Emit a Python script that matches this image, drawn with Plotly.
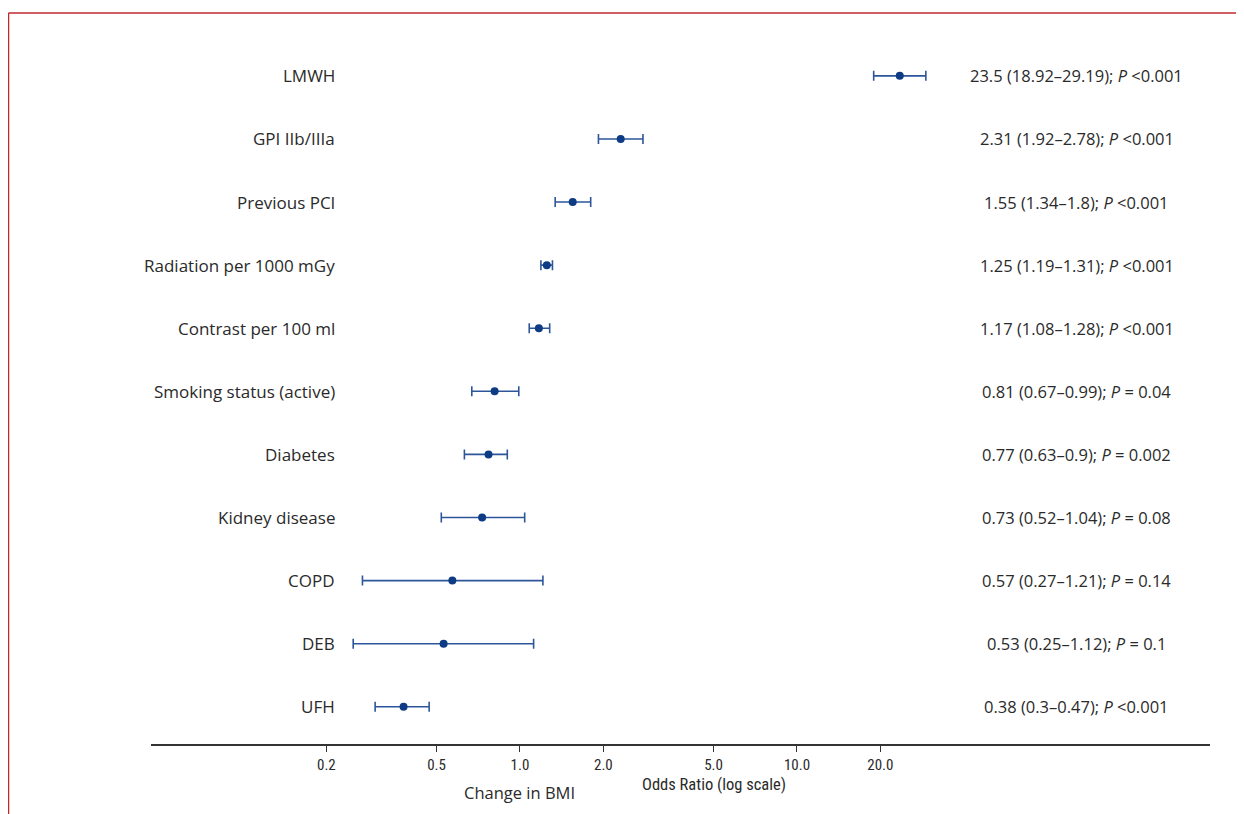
import plotly.graph_objects as go

labels = ["LMWH", "GPI IIb/IIIa", "Previous PCI", "Radiation per 1000 mGy",
          "Contrast per 100 ml", "Smoking status (active)", "Diabetes",
          "Kidney disease", "COPD", "DEB", "UFH"]
odds = [23.5, 2.31, 1.55, 1.25, 1.17, 0.81, 0.77, 0.73, 0.57, 0.53, 0.38]
ci_low = [18.92, 1.92, 1.34, 1.19, 1.08, 0.67, 0.63, 0.52, 0.27, 0.25, 0.3]
ci_high = [29.19, 2.78, 1.8, 1.31, 1.28, 0.99, 0.9, 1.04, 1.21, 1.12, 0.47]
p_text = ["<0.001", "<0.001", "<0.001", "<0.001", "<0.001", "= 0.04",
          "= 0.002", "= 0.08", "= 0.14", "= 0.1", "<0.001"]
tick_vals = [0.2, 0.5, 1.0, 2.0, 5.0, 10.0, 20.0]
tick_text = ["0.2", "0.5", "1.0", "2.0", "5.0", "10.0", "20.0"]

n = len(labels)
ypos = list(range(n - 1, -1, -1))

FONT = "'Open Sans', 'Noto Sans', sans-serif"
NARROW = "'Liberation Sans Narrow', 'Roboto Condensed', 'Arial Narrow', Roboto, sans-serif"
TXT = "#2a2a2a"

fig = go.Figure()
fig.add_trace(go.Scatter(
    x=odds, y=ypos, mode="markers",
    marker=dict(color="#0d3b84", size=8),
    error_x=dict(type="data", symmetric=False,
                 array=[h - o for h, o in zip(ci_high, odds)],
                 arrayminus=[o - l for o, l in zip(odds, ci_low)],
                 color="#2d569a", thickness=1.6, width=5),
    showlegend=False, hoverinfo="skip"))

# dashed reference line at OR = 1
fig.add_shape(type="line", xref="x", yref="y domain", x0=0, x1=0, y0=0, y1=1,
              line=dict(color="#1a1a1a", width=1.5, dash="6px,4px"))

# red frame
fig.add_shape(type="line", xref="paper", yref="paper",
              x0=-0.1346, x1=1.06, y0=1.0354, y1=1.0354,
              line=dict(color="#c0282e", width=1.6))
fig.add_shape(type="line", xref="paper", yref="paper",
              x0=-0.1346, x1=-0.1346, y0=1.0354, y1=-0.15,
              line=dict(color="#c0282e", width=1.6))

for lab, y, o, l, h, p in zip(labels, ypos, odds, ci_low, ci_high, p_text):
    fig.add_annotation(x=0.1756, xref="paper", y=y, yref="y", text=lab,
                       showarrow=False, xanchor="right",
                       font=dict(family=FONT, size=17, color=TXT))
    fig.add_annotation(x=0.874, xref="paper", y=y, yref="y",
                       text=f"{o:g} ({l:g}\u2013{h:g}); <i>P</i> {p}",
                       showarrow=False, xanchor="center",
                       font=dict(family=FONT, size=16.5, color=TXT))

fig.add_annotation(x=0.0, xref="x", y=-0.049, yref="paper", text="Change in BMI",
                   showarrow=False, xanchor="center", yanchor="top",
                   font=dict(family=FONT, size=16.5, color=TXT))
fig.add_annotation(x=0.699, xref="x", y=-0.041, yref="paper",
                   text="Odds Ratio (log scale)", showarrow=False,
                   xanchor="center", yanchor="top",
                   font=dict(family=NARROW, size=16.5, color=TXT))

fig.update_xaxes(type="log", range=[-1.332, 2.491], tickvals=tick_vals,
                 ticktext=tick_text, ticks="outside", ticklen=6, tickwidth=1.2,
                 tickcolor="#333", showline=True, linecolor="#333", linewidth=1.5,
                 showgrid=False, zeroline=False,
                 tickfont=dict(family=NARROW, size=15, color=TXT))
fig.update_yaxes(range=[-0.59, n - 1 + 0.6], visible=False, showgrid=False,
                 zeroline=False)

fig.update_layout(width=1236, height=806, plot_bgcolor="white",
                  paper_bgcolor="white",
                  margin=dict(l=143, r=34, t=30, b=70),
                  font=dict(family=FONT, color=TXT))

fig.write_html("out.html")
